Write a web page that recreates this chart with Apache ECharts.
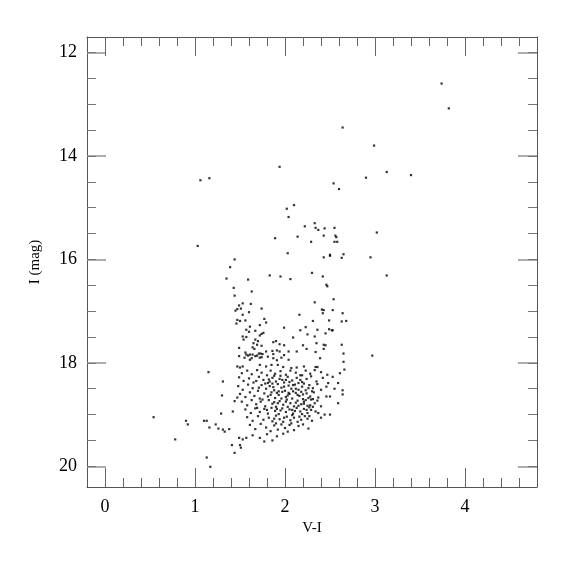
<!DOCTYPE html>
<html>
<head>
<meta charset="utf-8">
<script src="https://cdn.jsdelivr.net/npm/echarts@6/dist/echarts.min.js"></script>
<style>html,body{margin:0;padding:0;background:#fff}#c{width:575px;height:575px}</style>
</head>
<body>
<div id="c"></div>
<script>
// V-I colour, I magnitude
var brightStars = [[3.74,12.60],[3.82,13.08],[2.64,13.45],[2.99,13.80],[1.94,14.21],[3.13,14.31],[3.40,14.37],[2.90,14.42],[2.54,14.53],[2.60,14.64],[1.06,14.47],[1.16,14.43],[1.03,15.74],[2.97,17.86]];
var upperBranch = [[2.10,14.95],[2.02,15.02],[2.04,15.18],[2.22,15.36],[2.33,15.30],[2.34,15.39],[2.37,15.43],[2.44,15.40],[2.55,15.39],[1.89,15.59],[2.14,15.56],[2.43,15.54],[2.56,15.54],[2.57,15.57],[2.29,15.66],[2.55,15.66],[2.58,15.66],[3.02,15.48],[2.03,15.88],[2.43,15.96],[2.50,15.93],[2.50,15.91],[2.65,15.90],[2.63,15.97],[2.95,15.96],[1.83,16.31],[1.95,16.33],[2.06,16.38],[2.30,16.26],[2.42,16.33],[2.46,16.49],[2.47,16.52],[3.13,16.31],[1.63,16.62],[2.54,16.77],[1.44,16.00],[1.39,16.15],[1.35,16.37],[1.59,16.39],[1.43,16.55],[1.44,16.70]];
var blueStars = [[0.54,19.05],[0.78,19.48],[0.90,19.12],[0.92,19.19],[1.10,19.12],[1.13,19.12],[1.16,19.25],[1.15,18.18],[1.31,18.36],[1.30,18.63],[1.29,18.98],[1.23,19.19],[1.26,19.27],[1.31,19.29],[1.33,19.33],[1.38,19.28],[1.42,18.94],[1.44,18.74],[1.47,18.67],[1.41,19.59],[1.50,19.59],[1.51,19.64],[1.44,19.74],[1.49,19.45],[1.53,19.48],[1.57,19.45],[1.13,19.83],[1.17,20.01]];
var giantBranch = [[1.53,16.85],[1.62,16.86],[1.49,16.89],[1.47,16.96],[1.51,16.95],[1.45,16.99],[1.60,17.02],[1.74,16.95],[1.53,17.07],[2.33,16.83],[2.41,16.97],[2.43,16.98],[2.42,17.04],[2.16,17.07],[1.47,17.17],[1.50,17.19],[1.46,17.24],[1.56,17.18],[1.77,17.15],[1.79,17.22],[2.31,17.19],[2.49,17.18],[1.61,17.30],[1.72,17.27],[1.99,17.32],[2.23,17.31],[2.17,17.37],[2.36,17.36],[2.49,17.35],[1.57,17.36],[1.60,17.40],[1.67,17.38],[1.76,17.42],[1.74,17.44],[2.25,17.45],[2.45,17.43],[1.53,17.49],[1.57,17.50],[1.54,17.55],[1.72,17.47],[1.67,17.55],[1.70,17.58],[2.09,17.51],[2.33,17.49],[2.35,17.62],[1.87,17.60],[1.90,17.58],[1.94,17.64],[1.99,17.66],[2.20,17.66],[2.43,17.65],[2.45,17.66],[1.65,17.62],[1.69,17.65],[1.74,17.67],[1.49,17.71],[1.64,17.70],[1.66,17.73],[2.43,17.73],[1.56,17.80],[1.61,17.84],[1.57,17.84],[1.59,17.86],[1.64,17.84],[1.71,17.82],[1.73,17.82],[1.69,17.86],[1.75,17.83],[1.67,17.87],[1.79,17.78],[1.86,17.77],[1.87,17.83],[1.91,17.76],[1.94,17.78],[1.99,17.85],[2.04,17.78],[2.13,17.78],[2.24,17.73],[2.34,17.79],[2.39,17.91],[1.49,17.87],[1.55,17.90],[1.61,17.94],[1.63,17.91],[1.72,17.90],[1.74,17.89],[1.81,17.88],[1.87,17.91],[1.91,17.95],[1.96,17.90],[2.04,17.94],[1.47,18.07],[1.50,18.09],[1.53,18.07],[1.72,18.04],[1.79,18.07],[1.85,18.04],[1.92,18.04],[1.98,18.08],[2.07,18.10],[2.13,18.09],[2.21,18.07],[2.34,18.08],[2.36,18.08],[2.53,16.98],[2.64,17.04],[2.63,17.20],[2.68,17.19],[2.52,17.37],[2.53,17.37],[2.63,17.65],[2.65,17.82],[2.65,17.98],[2.66,18.13],[2.53,18.27]];
var mainClump = [[1.52,18.20],[1.58,18.15],[1.63,18.22],[1.69,18.14],[1.74,18.19],[1.80,18.24],[1.84,18.15],[1.89,18.21],[1.95,18.16],[2.01,18.23],[2.06,18.15],[2.12,18.19],[2.17,18.24],[2.23,18.15],[2.28,18.21],[2.33,18.14],[2.40,18.18],[2.47,18.23],[2.61,18.20],
[1.49,18.28],[1.54,18.35],[1.60,18.30],[1.65,18.38],[1.71,18.27],[1.76,18.33],[1.81,18.39],[1.86,18.29],[1.90,18.36],[1.94,18.31],[1.99,18.38],[2.03,18.27],[2.08,18.34],[2.13,18.29],[2.19,18.37],[2.24,18.31],[2.29,18.26],[2.35,18.36],[2.42,18.29],[2.48,18.39],[2.59,18.39],[1.82,18.32],[2.01,18.33],[2.15,18.39],[1.68,18.35],
[1.48,18.45],[1.53,18.52],[1.59,18.42],[1.64,18.49],[1.70,18.54],[1.74,18.43],[1.79,18.50],[1.83,18.45],[1.88,18.53],[1.92,18.41],[1.96,18.48],[2.00,18.54],[2.04,18.44],[2.07,18.50],[2.11,18.42],[2.15,18.52],[2.19,18.46],[2.23,18.53],[2.27,18.43],[2.31,18.49],[2.36,18.41],[2.40,18.52],[2.46,18.46],[2.55,18.50],[2.64,18.53],[1.86,18.40],[1.99,18.46],[2.09,18.55],[2.21,18.40],
[1.50,18.60],[1.56,18.66],[1.61,18.57],[1.66,18.64],[1.72,18.69],[1.77,18.59],[1.81,18.65],[1.85,18.57],[1.89,18.68],[1.93,18.62],[1.97,18.56],[2.01,18.66],[2.05,18.60],[2.08,18.69],[2.12,18.58],[2.16,18.64],[2.20,18.70],[2.24,18.59],[2.28,18.65],[2.32,18.57],[2.37,18.67],[2.46,18.65],[2.50,18.65],[2.64,18.61],[1.91,18.58],[2.03,18.63],[2.18,18.56],[2.26,18.68],
[1.52,18.75],[1.58,18.82],[1.63,18.72],[1.68,18.80],[1.73,18.75],[1.78,18.84],[1.82,18.72],[1.86,18.79],[1.90,18.85],[1.94,18.74],[1.98,18.81],[2.02,18.71],[2.06,18.78],[2.10,18.84],[2.14,18.73],[2.18,18.80],[2.21,18.75],[2.25,18.83],[2.29,18.71],[2.33,18.78],[2.40,18.84],[2.59,18.78],[1.88,18.76],[2.12,18.77],[2.23,18.72],[2.31,18.85],
[1.56,18.90],[1.62,18.97],[1.67,18.88],[1.72,18.95],[1.77,18.89],[1.81,18.98],[1.85,18.87],[1.89,18.93],[1.93,18.99],[1.97,18.88],[2.01,18.95],[2.05,18.90],[2.09,18.98],[2.13,18.87],[2.17,18.94],[2.21,18.89],[2.25,18.97],[2.29,18.91],[2.37,18.97],[2.44,19.00],[2.50,19.00],[1.95,18.92],[2.19,18.99],[2.27,18.86],
[1.58,19.05],[1.64,19.12],[1.70,19.03],[1.76,19.10],[1.82,19.06],[1.86,19.13],[1.90,19.02],[1.94,19.09],[1.98,19.14],[2.02,19.04],[2.06,19.11],[2.10,19.06],[2.14,19.14],[2.18,19.10],[2.22,19.03],[2.27,19.03],[2.30,19.12],[2.40,19.06],[1.88,19.08],[2.08,19.01],
[1.61,19.20],[1.67,19.28],[1.73,19.18],[1.79,19.25],[1.84,19.32],[1.88,19.21],[1.92,19.29],[1.96,19.19],[2.00,19.26],[2.05,19.20],[2.10,19.30],[2.15,19.22],[2.20,19.19],[2.26,19.27],[1.90,19.17],[2.03,19.33],
[1.64,19.40],[1.72,19.45],[1.80,19.38],[1.86,19.50],[1.91,19.42],[1.98,19.37],[1.77,19.52]];
var clumpCore = [[1.83,18.36],[1.87,18.47],[1.93,18.55],[1.97,18.33],[2.04,18.58],[2.09,18.43],[2.14,18.62],[2.17,18.33],[2.21,18.79],[2.24,18.91],[2.26,18.49],[2.28,18.82],[2.11,18.93],[2.03,18.85],[1.96,18.69],[1.92,18.78],[1.84,18.62],[1.80,18.91],[1.75,18.71],[1.71,18.48],[2.07,19.17],[2.16,19.04],[2.20,18.61],[2.31,18.70],[2.34,18.94],[1.99,19.06],[1.91,18.89],[2.12,18.50],[2.05,18.37],[1.88,18.25],[2.25,19.08],[2.30,18.55],[1.78,18.40],[2.15,18.83],[2.01,18.75],[1.95,18.25],[2.19,18.24],[2.36,18.73],[1.69,18.87],[2.08,18.91]];

var xMajorTicks = [0,1,2,3,4];
var xMinorTicks = [0,0.2,0.4,0.6,0.8,1,1.2,1.4,1.6,1.8,2,2.2,2.4,2.6,2.8,3,3.2,3.4,3.6,3.8,4,4.2,4.4,4.6];
var yMajorTicks = [12,14,16,18,20];
var yMinorTicks = [12,12.5,13,13.5,14,14.5,15,15.5,16,16.5,17,17.5,18,18.5,19,19.5,20];

var FONT = 'Liberation Serif';
var AX = '#555';

function xAx(pos, ticks, len, labels, main) {
  return {
    type: 'value', position: pos, min: -0.2, max: 4.8,
    splitLine: {show: false},
    axisLine: {show: main, onZero: false, lineStyle: {color: AX, width: 1}},
    axisTick: {show: true, inside: true, length: len, customValues: ticks, lineStyle: {color: '#666', width: 1}},
    axisLabel: labels ? {show: true, customValues: xMajorTicks, color: '#000', fontSize: 18, fontFamily: FONT, margin: 11} : {show: false},
    name: labels ? 'V-I' : '', nameLocation: 'middle', nameGap: 29,
    nameTextStyle: {color: '#000', fontSize: 15, fontFamily: FONT}
  };
}
function yAx(pos, ticks, len, labels, main, major) {
  return {
    type: 'value', position: pos, min: 11.7, max: 20.4, inverse: true,
    splitLine: {show: false},
    axisLine: {show: main, onZero: false, lineStyle: {color: AX, width: 1}},
    axisTick: {show: true, inside: true, length: len, customValues: ticks, lineStyle: {color: major ? '#999' : '#777', width: major ? 1.6 : 1}},
    axisLabel: labels ? {show: true, customValues: yMajorTicks, color: '#000', fontSize: 18, fontFamily: FONT, margin: 10} : {show: false},
    name: labels ? 'I (mag)' : '', nameLocation: 'middle', nameGap: 44,
    nameTextStyle: {color: '#000', fontSize: 15, fontFamily: FONT}
  };
}

var allStars = [brightStars, upperBranch, blueStars, giantBranch, mainClump, clumpCore];
var chart = echarts.init(document.getElementById('c'), null, {renderer: 'canvas'});
chart.setOption({
  animation: false,
  backgroundColor: '#fff',
  grid: {left: 87, top: 37, width: 450, height: 450},
  xAxis: [
    xAx('bottom', xMajorTicks, 19, true, true),
    xAx('bottom', xMinorTicks, 9, false, false),
    xAx('top', xMajorTicks, 19, false, true),
    xAx('top', xMinorTicks, 9, false, false)
  ],
  yAxis: [
    yAx('left', yMajorTicks, 19, true, true, true),
    yAx('left', yMinorTicks, 9, false, false, false),
    yAx('right', yMajorTicks, 19, false, true, true),
    yAx('right', yMinorTicks, 9, false, false, false)
  ],
  series: allStars.map(function (d) {
    return {type: 'scatter', xAxisIndex: 0, yAxisIndex: 0, data: d, symbol: 'rect', symbolSize: 2.2,
      itemStyle: {color: '#000'}, silent: true};
  })
});
</script>
</body>
</html>
